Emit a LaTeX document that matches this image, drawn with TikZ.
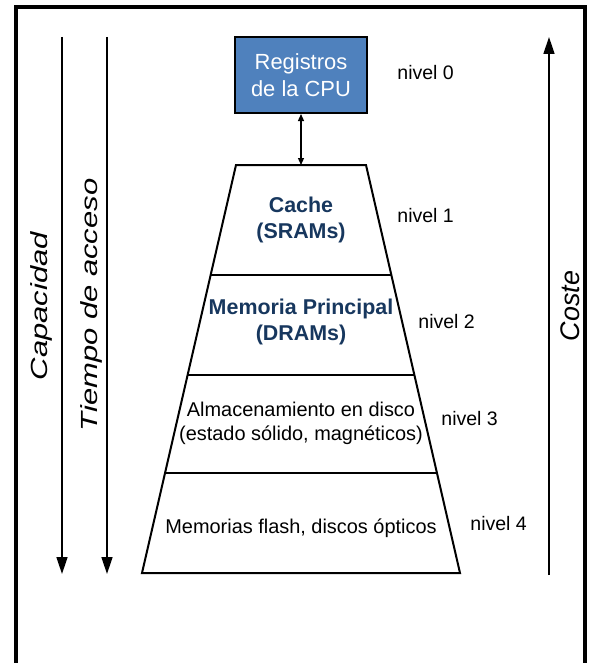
\documentclass[tikz,border=0pt]{standalone}
\usepackage{fontspec}
\setmainfont{Liberation Sans}
\usetikzlibrary{arrows.meta,calc,positioning}
\definecolor{regs}{HTML}{4F81BD}
\definecolor{dkb}{HTML}{17375E}
\tikzset{
  regbox/.style={draw=black,line width=1bp,fill=regs,text=white,align=center,
    minimum width=66bp,minimum height=38bp,inner sep=0pt,font=\fontsize{11}{13.5}\selectfont},
  lvl/.style={align=center,inner sep=0pt,font=\fontsize{10}{12}\selectfont},
  blvl/.style={lvl,text=dkb,font=\fontsize{10.75}{13.5}\selectfont\bfseries},
  nv/.style={anchor=west,inner sep=0pt,font=\fontsize{9.8}{12}\selectfont},
  axis/.style={line width=0.75bp,-{Triangle[length=8.5bp,width=5.5bp]}},
  axlbl/.style={rotate=90,inner sep=0pt,font=\fontsize{11.7}{14}\selectfont\itshape},
  trap/.style={line width=1bp,line join=miter},
  sep/.style={line width=1.2bp},
  link/.style={line width=0.6bp,{Triangle[length=3.5bp,width=3bp]}-{Triangle[length=3.5bp,width=3bp]}},
}

\begin{document}
\begin{tikzpicture}[x=0.5bp,y=-0.5bp]
  \useasboundingbox (0,0) rectangle (589,663);
  % ---- frame, open at the bottom
  \draw[line width=1.75bp] (16,663) -- (16,7) -- (585,7) -- (585,663);

  % ---- registers on top
  \node[regbox] (cpu) at (301,75) {Registros\\de la CPU};
  \node[nv] (n0) at (397,73) {nivel 0};

  % ---- pyramid
  \coordinate (tl) at (236,165);
  \coordinate (tr) at (366,165);
  \coordinate (bl) at (142,573);
  \coordinate (br) at (460,573);
  \coordinate (ctop) at (301,165);
  \draw[trap] (tl) -- (tr) -- (br) -- (bl) -- cycle;
  \foreach \f in {0.2696,0.5147,0.7549}
    \draw[sep] ($(tl)!\f!(bl)$) -- ($(tr)!\f!(br)$);
  \draw[link] (cpu.south) -- (ctop);

  \node[blvl] (l1) at (301,220) {Cache\\(SRAMs)};
  \node[blvl] (l2) at (301,322) {Memoria Principal\\(DRAMs)};
  \node[lvl] (l3) at (301,423) {Almacenamiento en disco\\(estado sólido, magnéticos)};
  \node[lvl] (l4) at (301,528) {Memorias flash, discos ópticos};
  \node[nv] (n1) at (397,216) {nivel 1};
  \node[nv] (n2) at (418,322) {nivel 2};
  \node[nv] (n3) at (441,419) {nivel 3};
  \node[nv] (n4) at (470,524) {nivel 4};

  % ---- side axes
  \coordinate (capa) at (62,37);   \coordinate (capb) at (62,574);
  \coordinate (tiea) at (107,37);  \coordinate (tieb) at (107,574);
  \coordinate (cosa) at (549,575); \coordinate (cosb) at (549,37);
  \draw[axis] (capa) -- (capb);
  \draw[axis] (tiea) -- (tieb);
  \draw[axis] (cosa) -- (cosb);
  \node[axlbl,xscale=1.33] (cap) at (41,306) {Capacidad};
  \node[axlbl,xscale=1.33] (tie) at (91,305) {Tiempo de acceso};
  \node[axlbl,font=\fontsize{13.5}{16}\selectfont\itshape] (cos) at (570,306) {Coste};
\end{tikzpicture}
\end{document}
